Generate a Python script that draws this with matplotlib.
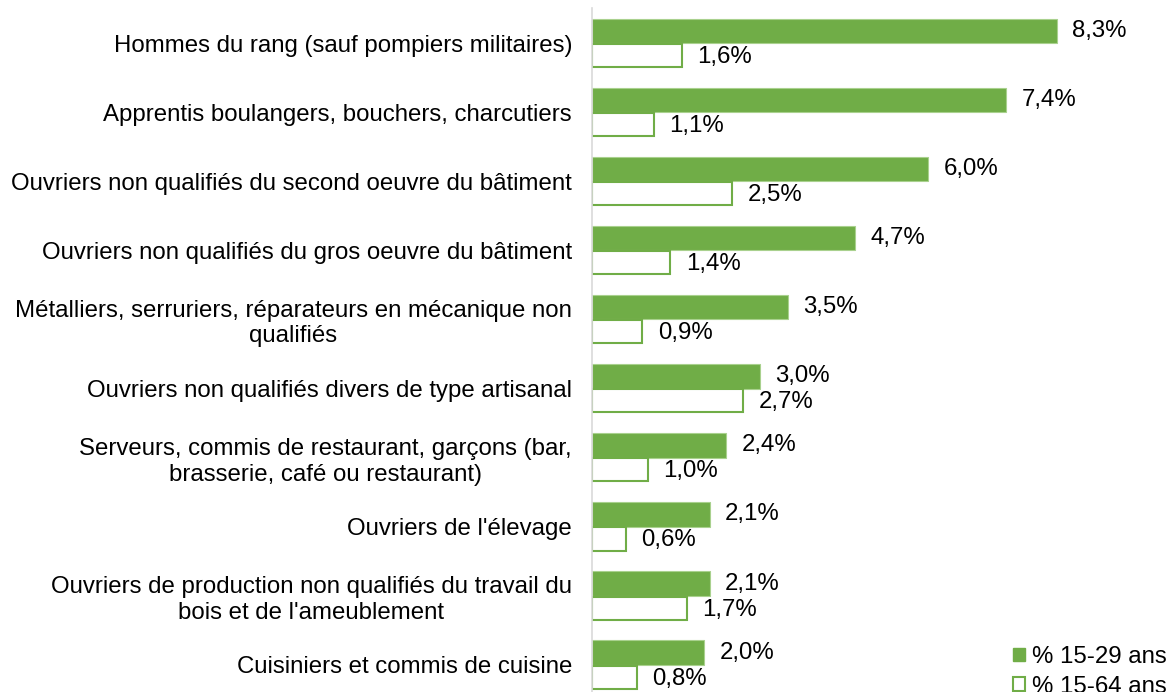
import matplotlib.pyplot as plt
from matplotlib.patches import Patch
import numpy as np

plt.rcParams['font.family'] = ['Liberation Sans', 'DejaVu Sans']

categories = [
	"Hommes du rang (sauf pompiers militaires)",
	"Apprentis boulangers, bouchers, charcutiers",
	"Ouvriers non qualifiés du second oeuvre du bâtiment",
	"Ouvriers non qualifiés du gros oeuvre du bâtiment",
	"Métalliers, serruriers, réparateurs en mécanique non\nqualifiés",
	"Ouvriers non qualifiés divers de type artisanal",
	"Serveurs, commis de restaurant, garçons (bar,\nbrasserie, café ou restaurant)",
	"Ouvriers de l'élevage",
	"Ouvriers de production non qualifiés du travail du\nbois et de l'ameublement",
	"Cuisiniers et commis de cuisine",
]
young = [8.3, 7.4, 6.0, 4.7, 3.5, 3.0, 2.4, 2.1, 2.1, 2.0]
all_ages = [1.6, 1.1, 2.5, 1.4, 0.9, 2.7, 1.0, 0.6, 1.7, 0.8]
series_names = ["% 15-29 ans", "% 15-64 ans"]

green = "#70AD47"
fs = 17.3

fig = plt.figure(figsize=(11.66, 6.92), dpi=100)
ax = fig.add_axes([592 / 1166, -7.5 / 692, 560 / 1166, 691 / 692])

y = np.arange(len(categories))
h = 0.355
ax.barh(y - h / 2, young, height=h, color=green, edgecolor="#A9D18E", linewidth=0.8)
ax.barh(y + h / 2, all_ages, height=h - 0.02, color="white", edgecolor=green, linewidth=1.5)

def fmt(v):
	return f"{v:.1f}%".replace(".", ",")

for i in range(len(categories)):
	ax.annotate(fmt(young[i]), (young[i], y[i] - h / 2), xytext=(11, 0), textcoords="offset points",
				va="center", ha="left", fontsize=fs, color="black")
	ax.annotate(fmt(all_ages[i]), (all_ages[i], y[i] + h / 2), xytext=(11, -1), textcoords="offset points",
				va="center", ha="left", fontsize=fs, color="black")

ax.set_xlim(0, 10)
ax.set_ylim(9.5, -0.5)
ax.set_yticks(y)
ax.set_yticklabels(categories, fontsize=fs, multialignment="center")
ax.tick_params(axis="y", length=0, pad=14.4)
ax.set_xticks([])
for side in ("top", "right", "bottom"):
	ax.spines[side].set_visible(False)
ax.spines["left"].set_color("#D9D9D9")
ax.spines["left"].set_linewidth(1.2)

handles = [Patch(facecolor=green, edgecolor=green), Patch(facecolor="white", edgecolor=green, linewidth=1.5)]
fig.legend(handles, series_names, loc="upper left", bbox_to_anchor=(1013 / 1166, 1 - 646 / 692),
		   frameon=False, fontsize=fs, handlelength=0.5, handleheight=0.5, handletextpad=0.3,
		   labelspacing=0.32, borderpad=0, borderaxespad=0)

fig.savefig("out.png", dpi=100)
